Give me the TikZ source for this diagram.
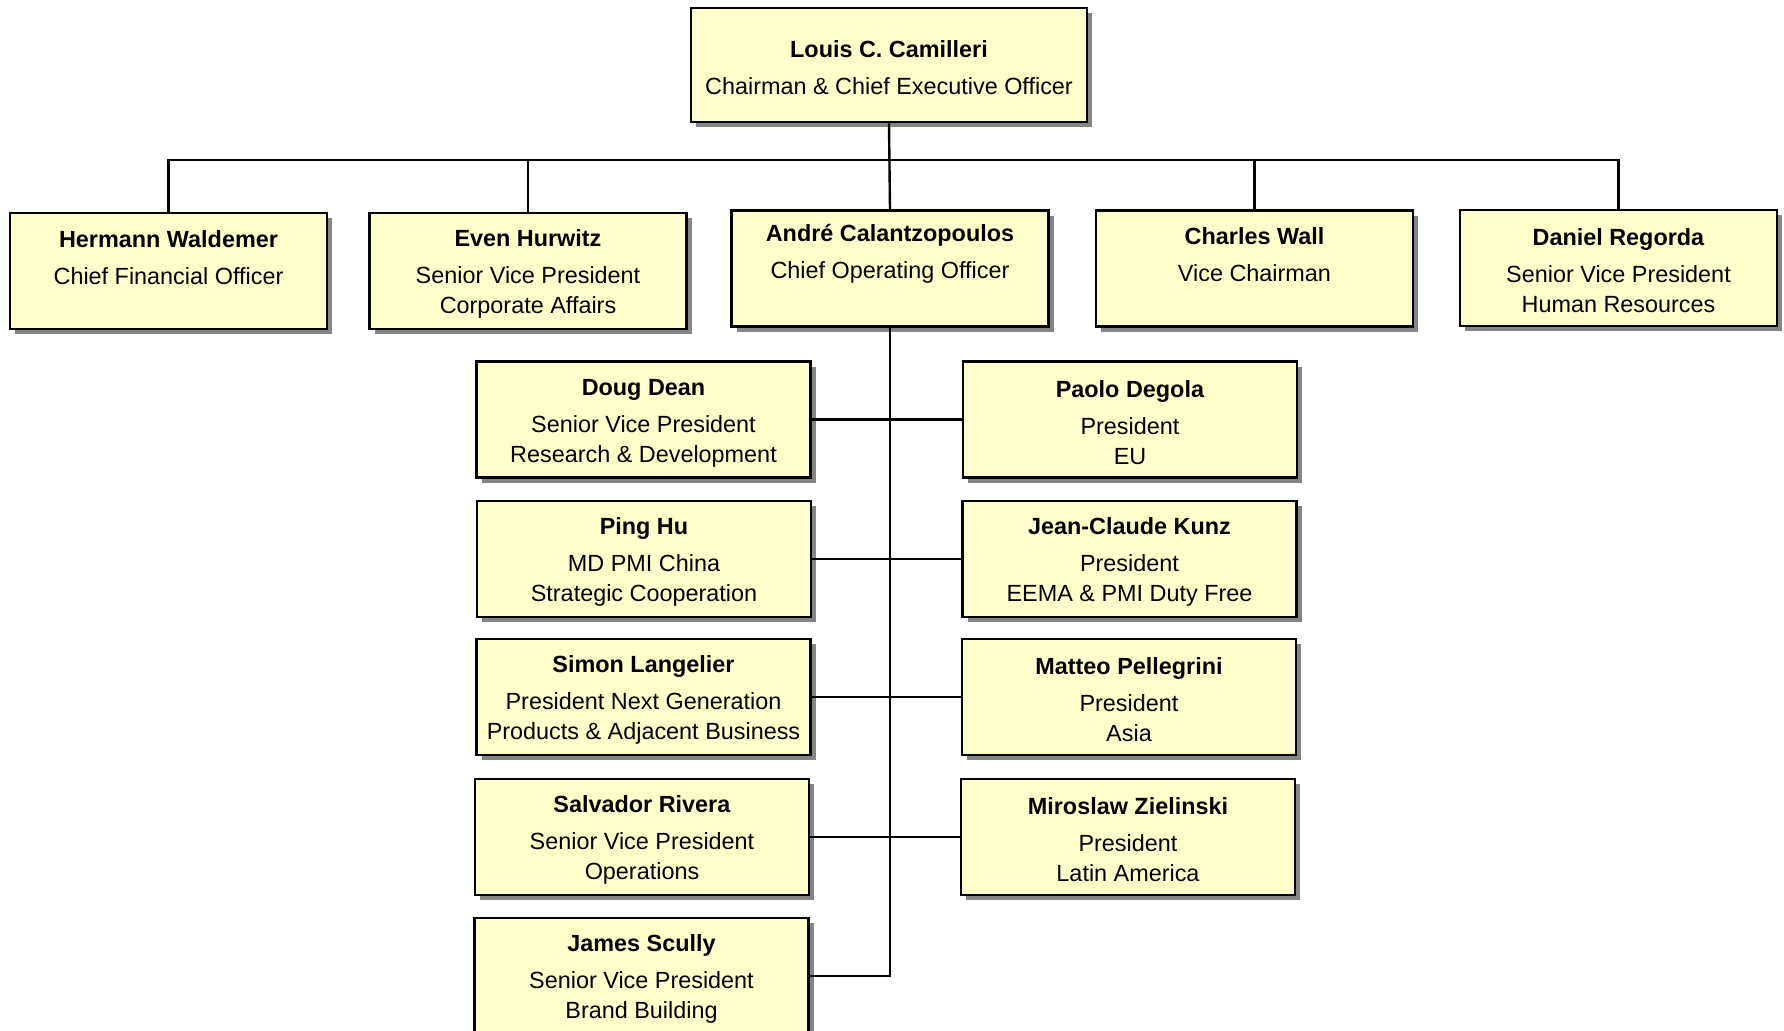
\documentclass[tikz,border=0pt]{standalone}
\usepackage{fontspec}
\setmainfont{Liberation Sans}
\usepackage{tikz}
\usetikzlibrary{shadows}

\definecolor{boxfill}{HTML}{FFFFCC}
\definecolor{shadowgray}{HTML}{858585}

% name line, with a little room above it
\newcommand{\who}[1]{\rule{0pt}{11.5pt}\textbf{#1}\\[3.5pt]}

\tikzset{
  person/.style={draw=black, line width=1.4pt, fill=boxfill, align=center,
    minimum height=58pt, inner sep=0pt,
    font=\fontsize{11.7}{15}\selectfont,
    drop shadow={shadow xshift=2.6pt, shadow yshift=-2.6pt, fill=shadowgray, opacity=1}},
  toprow/.style={person, minimum width=158.5pt},
  column/.style={person, minimum width=167pt},
  link/.style={line width=1.2pt}
}

\begin{document}
\begin{tikzpicture}[x=0.5pt,y=-0.5pt]
  \useasboundingbox (0,0) rectangle (1784,1031);

  \node[person, minimum width=198pt, minimum height=57pt] (ceo) at (889,65)
    {\who{Louis C. Camilleri}Chairman \& Chief Executive Officer};

  \node[toprow] (cfo) at (168.5,271)
    {\who{Hermann Waldemer}Chief Financial Officer\\[-2.6pt]\strut};
  \node[toprow] (hurwitz) at (528,271)
    {\who{Even Hurwitz}Senior Vice President\\Corporate Affairs};
  \node[toprow] (coo) at (890,268.5)
    {\who{André Calantzopoulos}Chief Operating Officer\\\strut};
  \node[toprow] (wall) at (1254.5,268.5)
    {\who{Charles Wall}Vice Chairman\\[-2.6pt]\strut};
  \node[toprow] (regorda) at (1618.5,268)
    {\who{Daniel Regorda}Senior Vice President\\Human Resources};

  % left column
  \node[column] (dean) at (643.5,419.5)
    {\who{Doug Dean}Senior Vice President\\Research \& Development};
  \node[column] (hu) at (644,559)
    {\who{Ping Hu}MD PMI China\\Strategic Cooperation};
  \node[column] (langelier) at (643.5,697)
    {\who{Simon Langelier}President Next Generation\\Products \& Adjacent Business};
  \node[column] (rivera) at (642,837)
    {\who{Salvador Rivera}Senior Vice President\\Operations};
  \node[column] (scully) at (641.5,976)
    {\who{James Scully}Senior Vice President\\Brand Building};

  % right column
  \node[column] (degola) at (1130,419.5)
    {\who{Paolo Degola}President\\EU};
  \node[column] (kunz) at (1129.5,559)
    {\who{Jean-Claude Kunz}President\\EEMA \& PMI Duty Free};
  \node[column] (pellegrini) at (1129,697)
    {\who{Matteo Pellegrini}President\\Asia};
  \node[column] (zielinski) at (1128,837)
    {\who{Miroslaw Zielinski}President\\Latin America};

  \coordinate (bus) at (890,160);

  \draw[link] (ceo.south) -- (coo.north);
  \draw[link] (cfo.north) |- (bus) -| (regorda.north);
  \draw[link] (hurwitz.north) -- (hurwitz.north |- bus);
  \draw[link] (wall.north) -- (wall.north |- bus);

  \draw[link] (coo.south) |- (scully.east);
  \draw[link] (dean.east) -- (degola.west);
  \draw[link] (hu.east) -- (kunz.west);
  \draw[link] (langelier.east) -- (pellegrini.west);
  \draw[link] (rivera.east) -- (zielinski.west);
\end{tikzpicture}
\end{document}
